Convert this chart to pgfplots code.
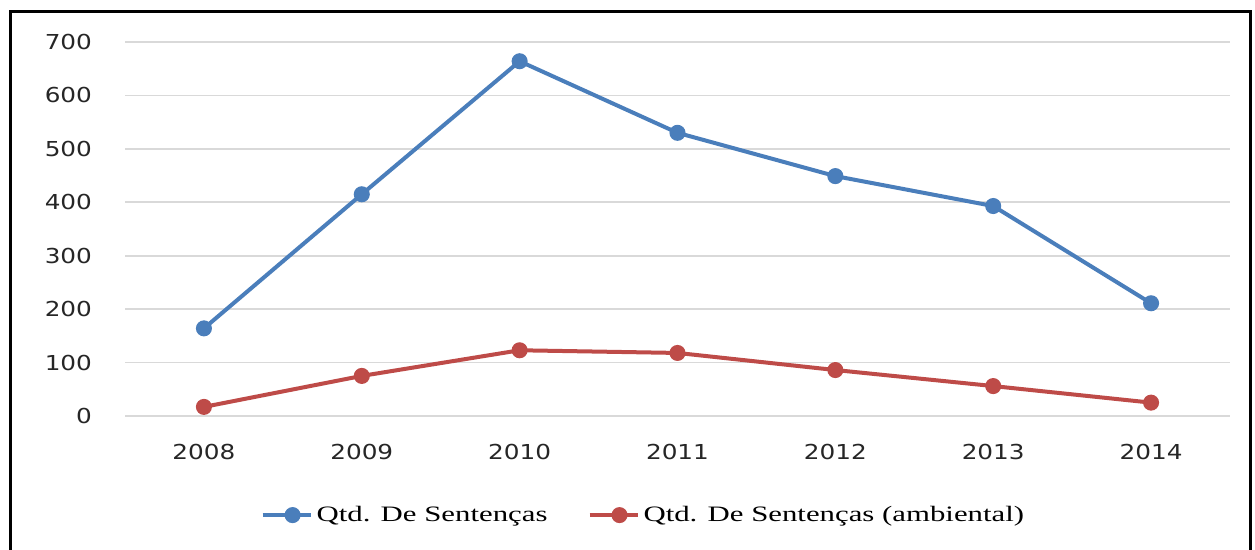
\documentclass[border=0pt]{standalone}
\usepackage{fontspec}
\setmainfont{Liberation Serif}
\newfontfamily\tickfont[FakeStretch=1.2]{DejaVu Sans}
\newfontfamily\legfont[FakeStretch=1.4]{Liberation Serif}
\usepackage{pgfplots}
\pgfplotsset{compat=1.18}
\definecolor{cblue}{HTML}{4A7EBB}
\definecolor{cred}{HTML}{BE4B48}
\definecolor{cgrid}{HTML}{D9D9D9}
\begin{document}
\begin{tikzpicture}
\path[use as bounding box] (0,0) rectangle (627.5pt,275pt);
\draw[black, line width=1.5pt] (5pt,0) -- (5pt,269pt) -- (625pt,269pt) -- (625pt,0);
\begin{axis}[
  at={(62.5pt,67pt)}, anchor=south west,
  scale only axis, width=552.5pt, height=187pt,
  xmin=-0.5, xmax=6.5, ymin=0, ymax=700,
  axis line style={draw=none},
  clip=false,
  xtick={0,...,6},
  xticklabels={2008,2009,2010,2011,2012,2013,2014},
  ytick={0,100,...,700},
  /pgf/number format/assume math mode=true,
  ymajorgrids,
  grid style={cgrid, line width=0.8pt},
  major tick length=0pt,
  tick label style={font=\tickfont\fontsize{10.3}{12}\selectfont, text=black!85},
  yticklabel style={anchor=east, xshift=-13pt},
  xticklabel style={anchor=center, yshift=-18pt},
  legend style={at={(0.47,-0.265)}, anchor=center, draw=none, legend columns=2,
    font=\legfont\fontsize{11}{13}\selectfont,
    /tikz/every even column/.append style={column sep=18pt}},
  legend image code/.code={
    \draw[#1, mark=none] (0pt,0pt) -- (24pt,0pt);
    \path[#1] plot coordinates {(15pt,0pt)};
  },
]
\addplot[cblue, line width=2pt, mark=*, mark size=3pt] coordinates {
  (0,164) (1,415) (2,664) (3,530) (4,449) (5,393) (6,211)};
\addlegendentry{Qtd. De Sentenças}
\addplot[cred, line width=2pt, mark=*, mark size=3pt] coordinates {
  (0,17) (1,75) (2,123) (3,118) (4,86) (5,56) (6,25)};
\addlegendentry{Qtd. De Sentenças (ambiental)}
\end{axis}
\end{tikzpicture}
\end{document}
